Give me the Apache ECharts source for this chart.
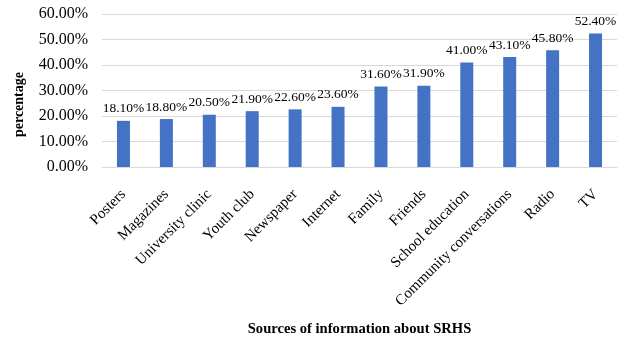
<!DOCTYPE html>
<html>
<head>
<meta charset="utf-8">
<script src="https://cdn.jsdelivr.net/npm/echarts@6/dist/echarts.min.js"></script>
<style>
  html, body { margin: 0; padding: 0; background: #fff; }
  #chart { width: 622px; height: 338px; }
</style>
</head>
<body>
<div id="chart"></div>
<script>
// Sources of information about SRHS, share of respondents (%)
const categories = ['Posters', 'Magazines', 'University clinic', 'Youth club', 'Newspaper', 'Internet',
  'Family', 'Friends', 'School education', 'Community conversations', 'Radio', 'TV'];
const percentages = [18.1, 18.8, 20.5, 21.9, 22.6, 23.6, 31.6, 31.9, 41.0, 43.1, 45.8, 52.4];
const yTicks = { min: 0, max: 60, interval: 10 };

const serif = '"Liberation Serif", "Times New Roman", serif';
const fmt = v => Number(v).toFixed(2) + '%';

const chart = echarts.init(document.getElementById('chart'), null, { renderer: 'canvas' });
chart.setOption({
  animation: false,
  backgroundColor: '#ffffff',
  grid: { left: 102, right: 5, top: 14, bottom: 164, containLabel: false },
  xAxis: {
    type: 'category',
    data: categories,
    name: 'Sources of information about SRHS',
    nameLocation: 'middle',
    nameGap: 155,
    nameTextStyle: { fontFamily: serif, fontSize: 14.6, fontWeight: 'bold', color: '#000' },
    axisLine: { lineStyle: { color: '#d9d9d9', width: 1 } },
    axisTick: { show: false },
    axisLabel: {
      interval: 0, rotate: 45, margin: 25,
      fontFamily: serif, fontSize: 15, color: '#000'
    }
  },
  yAxis: {
    type: 'value',
    min: yTicks.min, max: yTicks.max, interval: yTicks.interval,
    axisLine: { show: false },
    axisTick: { show: false },
    splitLine: { lineStyle: { color: '#d9d9d9', width: 1 } },
    axisLabel: { formatter: fmt, margin: 14, fontFamily: serif, fontSize: 16, color: '#000' }
  },
  graphic: [{
    type: 'text',
    left: 12, top: 72,
    rotation: Math.PI / 2,
    style: {
      text: 'percentage',
      font: 'bold 14px ' + serif,
      fill: '#000'
    }
  }],
  series: [{
    type: 'bar',
    data: percentages,
    barWidth: 13,
    itemStyle: { color: '#4472c4' },
    label: {
      show: true, position: 'top', distance: 5,
      formatter: p => fmt(p.value),
      fontFamily: serif, fontSize: 13.5, color: '#000'
    }
  }]
});
</script>
</body>
</html>
